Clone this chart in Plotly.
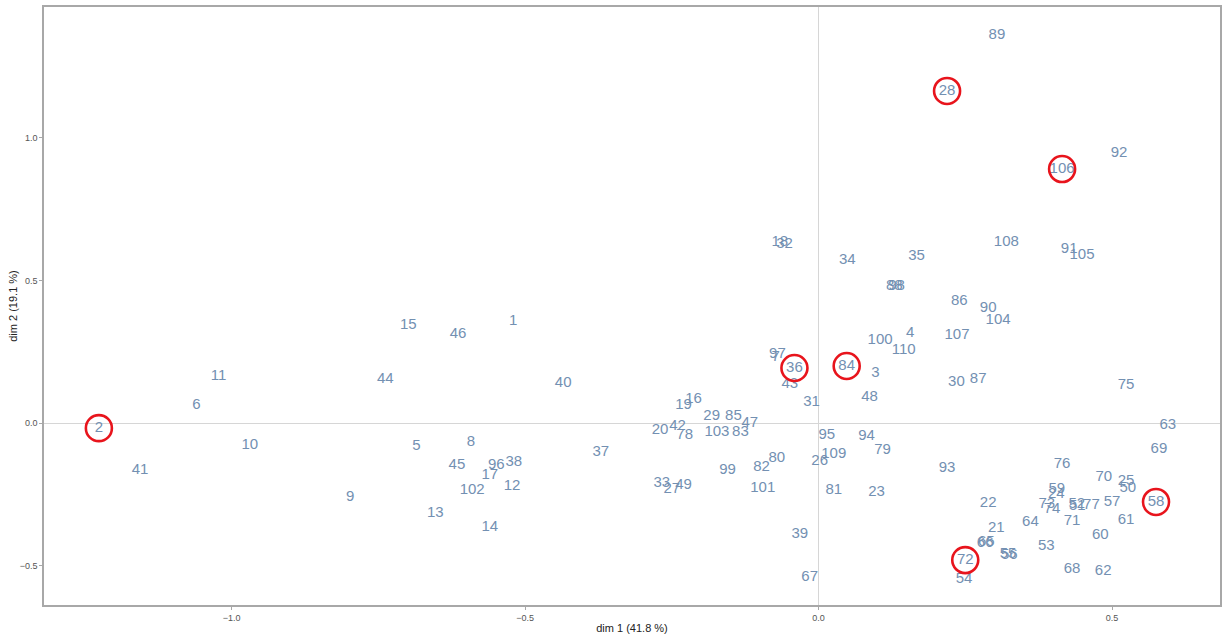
import plotly.graph_objects as go

# Individual coordinates on the first two dimensions
ids = [
    1, 2, 3, 4, 5, 6, 7, 8, 9, 10,
    11, 12, 13, 14, 15, 16, 17, 18, 19, 20,
    21, 22, 23, 24, 25, 26, 27, 28, 29, 30,
    31, 32, 33, 34, 35, 36, 37, 38, 39, 40,
    41, 42, 43, 44, 45, 46, 47, 48, 49, 50,
    51, 52, 53, 54, 55, 56, 57, 58, 59, 60,
    61, 62, 63, 64, 65, 66, 67, 68, 69, 70,
    71, 72, 73, 74, 75, 76, 77, 78, 79, 80,
    81, 82, 83, 84, 85, 86, 87, 88, 89, 90,
    91, 92, 93, 94, 95, 96, 97, 98, 99, 100,
    101, 102, 103, 104, 105, 106, 107, 108, 109, 110,
]
dim1 = [
    -0.520, -1.226, 0.097, 0.156, -0.685, -1.060, -0.073, -0.592, -0.798, -0.969,
    -1.022, -0.522, -0.653, -0.560, -0.699, -0.213, -0.560, -0.066, -0.230, -0.270,
    0.303, 0.289, 0.099, 0.405, 0.524, 0.002, -0.250, 0.219, -0.182, 0.235,
    -0.012, -0.058, -0.267, 0.049, 0.167, -0.041, -0.371, -0.519, -0.032, -0.435,
    -1.156, -0.240, -0.049, -0.738, -0.616, -0.614, -0.117, 0.087, -0.230, 0.527,
    0.441, 0.440, 0.388, 0.248, 0.323, 0.325, 0.500, 0.575, 0.406, 0.480,
    0.524, 0.485, 0.595, 0.361, 0.286, 0.284, -0.015, 0.432, 0.580, 0.486,
    0.432, 0.250, 0.389, 0.398, 0.524, 0.415, 0.465, -0.228, 0.109, -0.071,
    0.026, -0.097, -0.133, 0.048, -0.145, 0.240, 0.272, 0.129, 0.304, 0.289,
    0.427, 0.512, 0.219, 0.082, 0.014, -0.549, -0.070, 0.133, -0.155, 0.105,
    -0.095, -0.590, -0.173, 0.306, 0.449, 0.415, 0.236, 0.320, 0.026, 0.145,
]
dim2 = [
    0.358, -0.018, 0.175, 0.316, -0.081, 0.063, 0.232, -0.067, -0.260, -0.077,
    0.165, -0.221, -0.316, -0.365, 0.344, 0.084, -0.182, 0.635, 0.063, -0.025,
    -0.368, -0.281, -0.242, -0.249, -0.204, -0.133, -0.232, 1.165, 0.025, 0.144,
    0.074, 0.628, -0.211, 0.572, 0.586, 0.193, -0.102, -0.137, -0.389, 0.140,
    -0.165, -0.011, 0.137, 0.154, -0.147, 0.312, 0.000, 0.091, -0.218, -0.228,
    -0.292, -0.286, -0.432, -0.547, -0.461, -0.465, -0.277, -0.277, -0.232, -0.393,
    -0.340, -0.519, -0.007, -0.347, -0.419, -0.423, -0.540, -0.512, -0.091, -0.189,
    -0.344, -0.481, -0.286, -0.302, 0.133, -0.144, -0.288, -0.042, -0.095, -0.123,
    -0.235, -0.154, -0.032, 0.200, 0.025, 0.428, 0.154, 0.481, 1.361, 0.404,
    0.611, 0.947, -0.158, -0.046, -0.042, -0.147, 0.242, 0.481, -0.165, 0.291,
    -0.228, -0.235, -0.032, 0.361, 0.589, 0.891, 0.309, 0.635, -0.109, 0.256,
]

# Individuals marked with a ring
highlighted = [2, 28, 36, 84, 106, 58, 72]

x_title = "dim 1 (41.8 %)"
y_title = "dim 2 (19.1 %)"
x_ticks = [-1.0, -0.5, 0.0, 0.5]
y_ticks = [-0.5, 0.0, 0.5, 1.0]

hl_x = [dim1[ids.index(i)] for i in highlighted]
hl_y = [dim2[ids.index(i)] for i in highlighted]

fig = go.Figure()

fig.add_trace(go.Scatter(
    x=dim1, y=dim2, mode="text",
    text=[str(i) for i in ids],
    textposition="middle center",
    textfont=dict(family="Liberation Sans, Arial, sans-serif", size=15, color="#7390b2"),
    hoverinfo="text",
    showlegend=False,
))

fig.add_trace(go.Scatter(
    x=hl_x, y=hl_y, mode="markers",
    marker=dict(symbol="circle-open", size=26, color="#e8141c",
                line=dict(width=2.6, color="#e8141c")),
    hoverinfo="skip",
    showlegend=False,
))

axis_common = dict(
    showgrid=False,
    zeroline=True,
    zerolinecolor="#d6d6d6",
    zerolinewidth=1.2,
    showline=True,
    mirror=True,
    linecolor="#a8a8a8",
    linewidth=1.5,
    ticks="outside",
    ticklen=3,
    tickcolor="#a8a8a8",
    tickfont=dict(family="Liberation Sans, Arial, sans-serif", size=9, color="#555555"),
    tickformat=".1f",
    title_font=dict(family="Liberation Sans, Arial, sans-serif", size=11, color="#222222"),
)

fig.update_xaxes(range=[-1.3195, 0.6840], tickvals=x_ticks,
                 title_text=x_title, title_standoff=3, **axis_common)
fig.update_yaxes(range=[-0.6386, 1.4596], tickvals=y_ticks,
                 title_text=y_title, title_standoff=0, **axis_common)

fig.update_layout(
    width=1223, height=639,
    margin=dict(l=44, r=1, t=7, b=34),
    plot_bgcolor="white",
    paper_bgcolor="white",
)

fig.write_html("out.html")
